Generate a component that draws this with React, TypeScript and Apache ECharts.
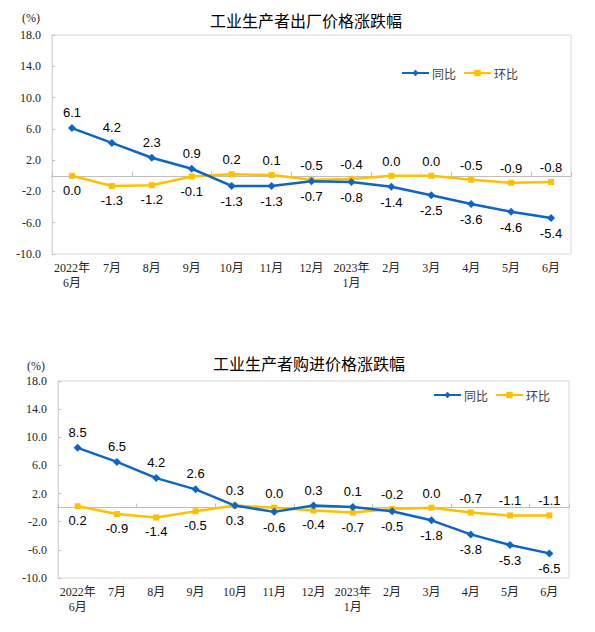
import React, { useEffect, useRef } from "react";
import * as echarts from "echarts";

const categories = [
  "2022年\n6月", "7月", "8月", "9月", "10月", "11月", "12月",
  "2023年\n1月", "2月", "3月", "4月", "5月", "6月",
];
const ppiYoY = [6.1, 4.2, 2.3, 0.9, -1.3, -1.3, -0.7, -0.8, -1.4, -2.5, -3.6, -4.6, -5.4];
const ppiMoM = [0.0, -1.3, -1.2, -0.1, 0.2, 0.1, -0.5, -0.4, 0.0, 0.0, -0.5, -0.9, -0.8];
const rmYoY = [8.5, 6.5, 4.2, 2.6, 0.3, -0.6, 0.3, 0.1, -0.5, -1.8, -3.8, -5.3, -6.5];
const rmMoM = [0.2, -0.9, -1.4, -0.5, 0.3, 0.0, -0.4, -0.7, -0.2, 0.0, -0.7, -1.1, -1.1];
const yTicks = [-10, -6, -2, 2, 6, 10, 14, 18];
const titles = ["工业生产者出厂价格涨跌幅", "工业生产者购进价格涨跌幅"];
const seriesNames = ["同比", "环比"];

const BLUE = "#0F64C8";
const YELLOW = "#FFC000";
const SERIF = "'Liberation Serif', 'Times New Roman', 'Noto Sans CJK SC', serif";
const SANS = "'Liberation Sans', Arial, sans-serif";
const CJK = "'Noto Sans CJK SC', sans-serif";

function labeled(vals: number[], other: number[], isYoY: boolean) {
  return vals.map((v, i) => {
    const upper = isYoY ? v >= other[i] : v > other[i];
    return {
      value: v,
      label: { position: upper ? "top" : "bottom" },
    };
  });
}

export default function App() {
  const ref = useRef<HTMLDivElement>(null);
  useEffect(() => {
    document.body.style.margin = "0";
    const chart = echarts.init(ref.current!, undefined, { renderer: "svg" });
    const grids = [
      { left: 52, top: 35, width: 519, height: 219 },
      { left: 58, top: 381, width: 511, height: 197 },
    ];
    const xAxis: any[] = [];
    const yAxis: any[] = [];
    const series: any[] = [];
    const datasets = [
      [ppiYoY, ppiMoM],
      [rmYoY, rmMoM],
    ];
    grids.forEach((g, gi) => {
      xAxis.push({
        type: "category",
        gridIndex: gi,
        data: categories,
        position: "bottom",
        axisLine: { show: false, onZero: false },
        axisTick: { show: false },
        axisLabel: {
          fontFamily: SERIF,
          fontSize: 12,
          color: "#262626",
          margin: 6,
          lineHeight: 15,
          interval: 0,
        },
      });
      xAxis.push({
        type: "category",
        gridIndex: gi,
        data: categories,
        position: "bottom",
        axisLine: { show: true, onZero: true, lineStyle: { color: "#BFBFBF", width: 1 } },
        axisTick: { show: true, inside: true, length: 4, lineStyle: { color: "#BFBFBF" } },
        axisLabel: { show: false },
      });
      yAxis.push({
        type: "value",
        gridIndex: gi,
        min: -10,
        max: 18,
        interval: 2,
        splitLine: { show: false },
        axisLine: { show: true, lineStyle: { color: "#D9D9D9" } },
        axisTick: {
          show: true,
          inside: true,
          length: 3,
          customValues: yTicks,
          lineStyle: { color: "#BFBFBF" },
        },
        axisLabel: {
          customValues: yTicks,
          formatter: (v: number) => v.toFixed(1),
          fontFamily: SERIF,
          fontSize: 12,
          color: "#262626",
          margin: 11,
        },
      });
      const [yoy, mom] = datasets[gi];
      const labelCommon = {
        show: true,
        fontFamily: SANS,
        fontSize: 13,
        color: "#000",
        distance: 5,
        formatter: (p: any) => Number(p.value).toFixed(1),
      };
      series.push({
        name: seriesNames[1],
        type: "line",
        xAxisIndex: gi * 2,
        yAxisIndex: gi,
        data: labeled(mom, yoy, false),
        symbol: "rect",
        symbolSize: 6,
        lineStyle: { color: YELLOW, width: 2.5 },
        itemStyle: { color: YELLOW },
        label: labelCommon,
      });
      series.push({
        name: seriesNames[0],
        type: "line",
        xAxisIndex: gi * 2,
        yAxisIndex: gi,
        data: labeled(yoy, mom, true),
        symbol: "diamond",
        symbolSize: 8,
        lineStyle: { color: BLUE, width: 2.5 },
        itemStyle: { color: BLUE },
        label: labelCommon,
      });
    });

    const legendCommon = {
      data: seriesNames,
      itemWidth: 27,
      itemHeight: 8,
      itemGap: 7,
      textStyle: { fontFamily: CJK, fontSize: 12, color: "#404040", padding: [0, 0, 0, -2] },
    };

    chart.setOption({
      animation: false,
      backgroundColor: "#fff",
      grid: grids.map((g) => ({
        ...g,
        show: true,
        borderColor: "#D9D9D9",
        borderWidth: 1,
        backgroundColor: "transparent",
      })),
      xAxis,
      yAxis,
      series,
      legend: [
        { ...legendCommon, left: 396, top: 62 },
        { ...legendCommon, left: 428, top: 384 },
      ],
      graphic: [
        {
          type: "text",
          left: 210,
          top: 12,
          style: { text: titles[0], font: `16px ${CJK}`, fill: "#000" },
        },
        {
          type: "text",
          left: 213,
          top: 355,
          style: { text: titles[1], font: `16px ${CJK}`, fill: "#000" },
        },
        {
          type: "text",
          left: 22,
          top: 12,
          style: { text: "(%)", font: `12px ${SERIF}`, fill: "#262626" },
        },
        {
          type: "text",
          left: 27,
          top: 360,
          style: { text: "(%)", font: `12px ${SERIF}`, fill: "#262626" },
        },
      ],
    });
    return () => chart.dispose();
  }, []);
  return <div ref={ref} style={{ width: 595, height: 632 }} />;
}
